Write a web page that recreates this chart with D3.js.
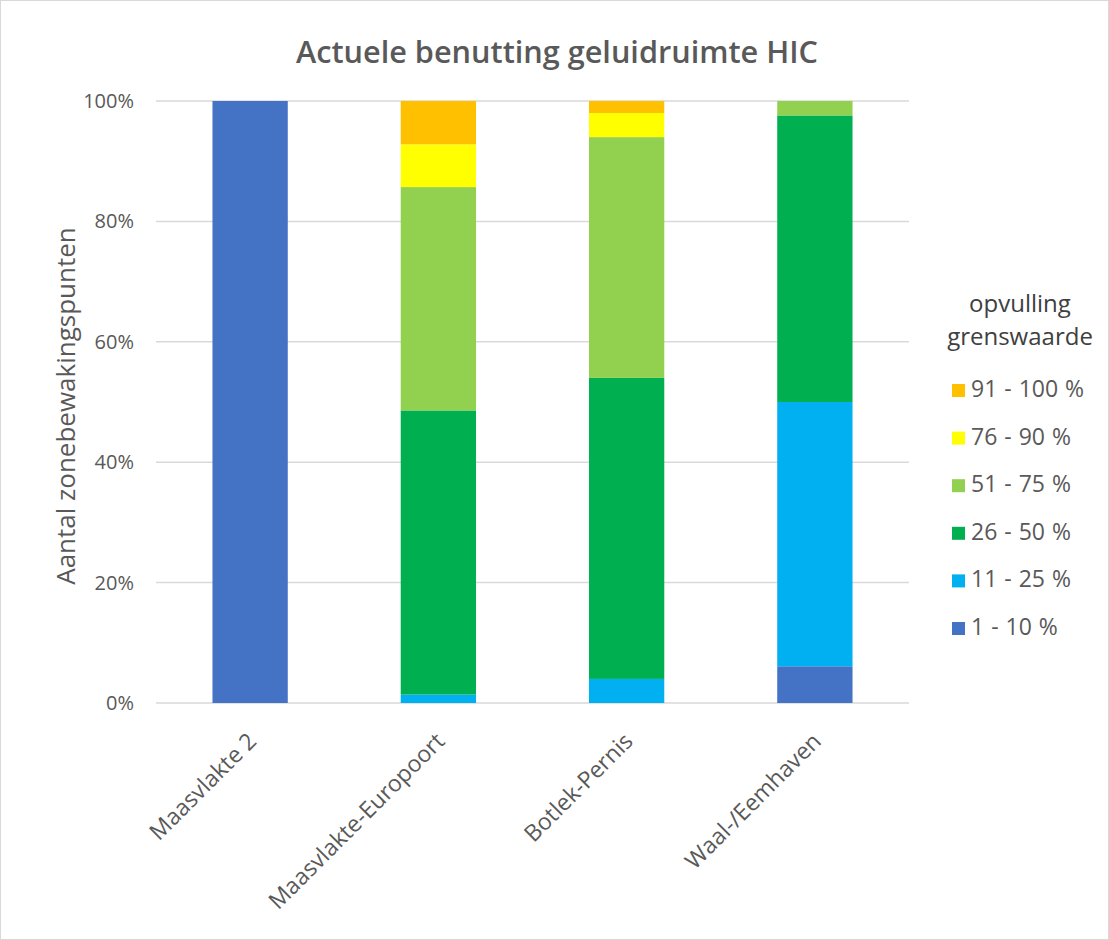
<!DOCTYPE html>
<html>
<head>
<meta charset="utf-8">
<script src="https://cdn.jsdelivr.net/npm/d3@7"></script>
<style>
  body { margin: 0; background: #fff; }
  svg { display: block; font-family: "Open Sans", "Noto Sans", sans-serif; }
</style>
</head>
<body>
<svg id="chart" width="1109" height="940"></svg>
<script>
// --- data (share of monitoring points, %) ---
const regions = ['Maasvlakte 2', 'Maasvlakte-Europoort', 'Botlek-Pernis', 'Waal-/Eemhaven'];
const classes = ['1 - 10 %', '11 - 25 %', '26 - 50 %', '51 - 75 %', '76 - 90 %', '91 - 100 %'];
const colors  = ['#4472C4', '#00B0F0', '#00B050', '#92D050', '#FFFF00', '#FFC000'];

const c1to10   = [100, 0,    0,  6.1];
const c11to25  = [0,   1.4,  4,  43.9];
const c26to50  = [0,   47.2, 50, 47.6];
const c51to75  = [0,   37.1, 40, 2.4];
const c76to90  = [0,   7.1,  4,  0];
const c91to100 = [0,   7.2,  2,  0];

const yTicks = [0, 20, 40, 60, 80, 100];

// build rows for the stack
const series = [c1to10, c11to25, c26to50, c51to75, c76to90, c91to100];
const rows = regions.map((r, i) => {
  const row = { region: r };
  classes.forEach((c, k) => { row[c] = series[k][i]; });
  return row;
});

const svg = d3.select('#chart');
const W = 1109, H = 940;
const margin = { left: 156, right: 200, top: 101, bottom: 237 };

const x = d3.scaleBand()
  .domain(regions)
  .range([margin.left, W - margin.right])
  .paddingInner(0.6)
  .paddingOuter(0.3);

const y = d3.scaleLinear()
  .domain([0, 100])
  .range([H - margin.bottom, margin.top]);

const color = d3.scaleOrdinal().domain(classes).range(colors);

// chart border
svg.append('rect')
  .attr('x', 0.5).attr('y', 0.5)
  .attr('width', W - 1).attr('height', H - 1)
  .attr('fill', '#fff')
  .attr('stroke', '#d9d9d9');

// title
svg.append('text')
  .attr('x', 557).attr('y', 63)
  .attr('text-anchor', 'middle')
  .attr('font-size', 30)
  .attr('font-weight', 600)
  .attr('fill', '#595959')
  .attr('textLength', 522)
  .attr('lengthAdjust', 'spacingAndGlyphs')
  .text('Actuele benutting geluidruimte HIC');

// gridlines
svg.append('g')
  .selectAll('line')
  .data(yTicks)
  .join('line')
  .attr('x1', margin.left).attr('x2', W - margin.right)
  .attr('y1', d => y(d)).attr('y2', d => y(d))
  .attr('stroke', '#d9d9d9')
  .attr('stroke-width', 1.5);

// y tick labels
svg.append('g')
  .selectAll('text')
  .data(yTicks)
  .join('text')
  .attr('x', 134)
  .attr('y', d => y(d))
  .attr('dy', '0.35em')
  .attr('text-anchor', 'end')
  .attr('font-size', 20)
  .attr('fill', '#595959')
  .text(d => d + '%');

// y axis title
svg.append('text')
  .attr('transform', 'translate(75,406) rotate(-90)')
  .attr('text-anchor', 'middle')
  .attr('font-size', 26)
  .attr('fill', '#595959')
  .text('Aantal zonebewakingspunten');

// stacked bars
const stacked = d3.stack().keys(classes)(rows);

svg.append('g')
  .selectAll('g')
  .data(stacked)
  .join('g')
  .attr('fill', d => color(d.key))
  .selectAll('rect')
  .data(d => d)
  .join('rect')
  .attr('x', d => x(d.data.region))
  .attr('width', x.bandwidth())
  .attr('y', d => y(d[1]))
  .attr('height', d => y(d[0]) - y(d[1]));

// x category labels, rotated
svg.append('g')
  .selectAll('text')
  .data(regions)
  .join('text')
  .attr('transform', d => `translate(${x(d) + x.bandwidth() / 2 + 2},${y(0) + 34}) rotate(-45)`)
  .attr('text-anchor', 'end')
  .attr('dy', '0.35em')
  .attr('font-size', 23)
  .attr('fill', '#595959')
  .text(d => d);

// legend
const legend = svg.append('g');
legend.append('text')
  .attr('x', 1020).attr('y', 312)
  .attr('text-anchor', 'middle')
  .attr('font-size', 24)
  .attr('fill', '#404040')
  .text('opvulling');
legend.append('text')
  .attr('x', 1020).attr('y', 345)
  .attr('text-anchor', 'middle')
  .attr('font-size', 24)
  .attr('fill', '#404040')
  .text('grenswaarde');

const legendItems = classes.slice().reverse();
const item = legend.selectAll('g.item')
  .data(legendItems)
  .join('g')
  .attr('class', 'item')
  .attr('transform', (d, i) => `translate(952,${397 + i * 47.6})`);

item.append('rect')
  .attr('x', 0).attr('y', -13)
  .attr('width', 13).attr('height', 13)
  .attr('fill', d => color(d));

item.append('text')
  .attr('x', 19)
  .attr('font-size', 23)
  .attr('word-spacing', 1)
  .attr('fill', '#595959')
  .text(d => d);
</script>
</body>
</html>
